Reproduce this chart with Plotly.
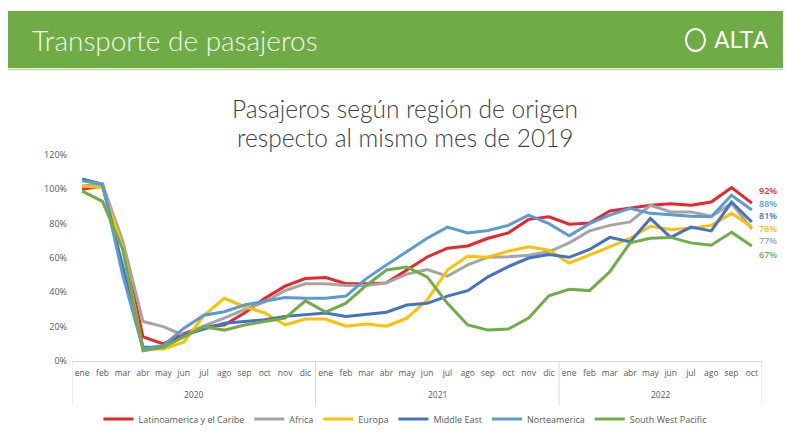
import plotly.graph_objects as go

months = ["ene", "feb", "mar", "abr", "may", "jun", "jul", "ago", "sep", "oct", "nov", "dic"]
years = ["2020", "2021", "2022"]
month_counts = [12, 12, 10]

latam = [100, 102, 68, 14, 10, 16, 20, 21, 28, 36.5, 43.6, 48,
         48.6, 45, 45, 45.5, 53, 60.6, 65.7, 67, 71.5, 74.6, 82.5, 84,
         79.7, 80.4, 87.4, 89, 90.7, 91.6, 90.7, 92.6, 101, 92]
africa = [102, 103, 70, 23, 20, 15, 20.5, 25, 30, 34.5, 41, 45,
          45, 44, 44, 45.5, 50.6, 53.3, 49.4, 56, 60.5, 60.7, 61.6, 63.6,
          68.8, 75.8, 79, 81, 90.7, 86.8, 86.8, 84.3, 91.8, 77]
europa = [102, 101, 66, 7, 7, 11, 26.5, 36.5, 31.6, 28, 21, 24.5,
          24.4, 20.3, 21.5, 20.3, 25, 35.5, 53, 61, 60.5, 64, 66.5, 64.5,
          57, 61.6, 66.5, 71.5, 78.5, 76.6, 77.3, 79, 86, 78]
middle_east = [106, 103, 55, 8, 8, 15, 18.6, 22, 23, 24, 26, 27,
               28, 26, 27, 28.4, 32.6, 33.6, 37.8, 41, 49, 55, 60, 62,
               60.4, 65, 72, 69.4, 83, 72, 78, 75.8, 92.6, 81]
norteamerica = [105, 103, 50, 7, 9, 19, 26.7, 28.7, 32.6, 35, 37, 36.5,
                36.6, 37.8, 48, 56, 63.6, 71.5, 78, 74.6, 76, 79, 85, 80,
                73, 80, 85, 89, 86, 85, 84.3, 84, 96.5, 88]
sw_pacific = [99, 93, 65, 6, 8, 14, 20, 18, 21, 23, 25, 35,
              28.5, 33.7, 44, 53, 54.8, 49, 33.6, 21, 18, 18.6, 25, 38,
              41.8, 41, 52, 68.8, 71.5, 72, 68.8, 67.4, 75, 67]

series = [
    ("Latinoamerica y el Caribe", latam, "#E8262B"),
    ("Africa", africa, "#A5A5A5"),
    ("Europa", europa, "#FFC000"),
    ("Middle East", middle_east, "#4472C4"),
    ("Norteamerica", norteamerica, "#5B9BD5"),
    ("South West Pacific", sw_pacific, "#70AD47"),
]
label_yshift = {"Latinoamerica y el Caribe": 12.8, "Africa": -12, "Europa": -1.2,
                "Middle East": 6.2, "Norteamerica": 6.6, "South West Pacific": -8.2}

inner = []
for n_m in month_counts:
    inner += months[:n_m]
n = len(inner)
xidx = list(range(n))

fig = go.Figure()
for name, vals, color in series:
    fig.add_trace(go.Scatter(
        x=xidx, y=[v / 100 for v in vals], name=name, mode="lines",
        line=dict(color=color, width=3), hoverinfo="skip"))

# page has an 8px body margin; figure origin sits at page (8, 8)
OFF = 8
W, H = 783, 437
L, R, T, B = 64, 29, 147, 84
pw, ph = W - L - R, H - T - B


def px(x):
    return (x - OFF - L) / pw


def py(y):
    return (H - B - (y - OFF)) / ph


annotations = []
for name, vals, color in series:
    annotations.append(dict(
        x=n - 1, y=vals[-1] / 100, xref="x", yref="y",
        text=f"{vals[-1]:.0f}%", showarrow=False, xanchor="left",
        xshift=6, yshift=label_yshift[name], borderpad=0,
        font=dict(color=color, size=9, family="Open Sans", weight=600)))

shapes = []
start = 0
bounds = [-0.5]
for yr, cnt in zip(years, month_counts):
    center = start + (cnt - 1) / 2
    annotations.append(dict(
        x=center, y=py(394), xref="x", yref="paper", text=yr, showarrow=False,
        xanchor="center", yanchor="middle",
        font=dict(size=8.5, color="#595959", family="Open Sans")))
    start += cnt
    bounds.append(start - 0.5)
for b in bounds:
    shapes.append(dict(type="line", xref="x", yref="paper", x0=b, x1=b,
                       y0=0, y1=py(405), line=dict(color="#D9D9D9", width=1)))

annotations += [
    dict(x=px(30), y=py(40), xref="paper", yref="paper", text="Transporte de pasajeros",
         showarrow=False, xanchor="left", yanchor="middle",
         font=dict(color="#F2F7EE", size=28, family="Lato", weight=300)),
    dict(x=px(771), y=py(40), xref="paper", yref="paper", text="ALTA",
         showarrow=False, xanchor="right", yanchor="middle",
         font=dict(color="#FFFFFF", size=24, family="Roboto")),
    dict(x=px(405), y=py(108), xref="paper", yref="paper",
         text="Pasajeros según región de origen", showarrow=False,
         xanchor="center", yanchor="middle",
         font=dict(color="#404040", size=24.5, family="Lato", weight=300)),
    dict(x=px(405), y=py(137), xref="paper", yref="paper",
         text="respecto al mismo mes de 2019", showarrow=False,
         xanchor="center", yanchor="middle",
         font=dict(color="#404040", size=24.5, family="Lato", weight=300)),
]

shapes += [
    dict(type="rect", xref="paper", yref="paper", x0=px(5), x1=px(791),
         y0=py(68), y1=py(11), fillcolor="#6FAC46", line=dict(width=0), layer="below"),
    dict(type="line", xref="paper", yref="paper", x0=px(5), x1=px(791),
         y0=py(69.5), y1=py(69.5), line=dict(color="#B9D9A3", width=1.5)),
    dict(type="circle", xref="paper", yref="paper", x0=px(686), x1=px(705),
         y0=py(51), y1=py(29), line=dict(color="#FFFFFF", width=2)),
]

fig.update_layout(
    width=W, height=H,
    margin=dict(l=L, r=R, t=T, b=B, autoexpand=False),
    paper_bgcolor="white", plot_bgcolor="white",
    showlegend=True,
    legend=dict(orientation="h", x=px(405.5), xanchor="center", y=py(419), yanchor="middle",
                font=dict(size=9, color="#595959", family="Open Sans"),
                itemwidth=30, tracegroupgap=0),
    xaxis=dict(range=[-0.5, n - 0.5], tickmode="array", tickvals=xidx, ticktext=inner,
               showgrid=False, showline=True, automargin=False, zeroline=False,
               linecolor="#D9D9D9", linewidth=1, ticks="", tickangle=0,
               ticklabelstandoff=4,
               tickfont=dict(size=8.5, color="#595959", family="Open Sans")),
    yaxis=dict(range=[0, 1.2], tickvals=[0, 0.2, 0.4, 0.6, 0.8, 1.0, 1.2],
               tickformat=".0%", showgrid=False, zeroline=False, showline=False,
               automargin=False, ticklabelstandoff=4,
               tickfont=dict(size=9, color="#595959", family="Open Sans")),
    annotations=annotations,
    shapes=shapes,
)

fig.write_html("out.html")
